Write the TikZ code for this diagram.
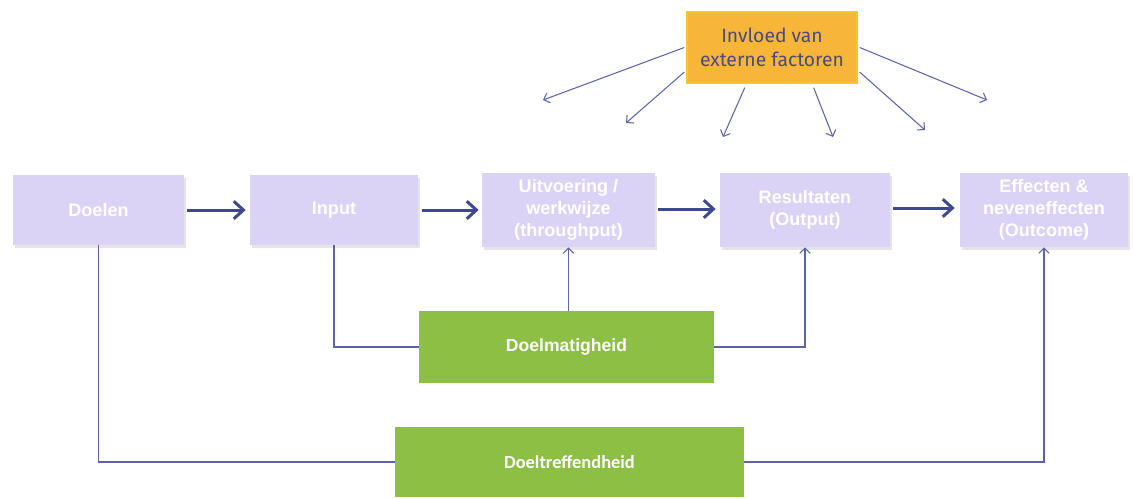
\documentclass[tikz,border=0pt]{standalone}
\usepackage{fontspec}
\setmainfont{Liberation Sans}
\newfontfamily\carlito{Carlito}
\newfontfamily\fira{Fira Sans}
\usetikzlibrary{arrows.meta,shadows}
\definecolor{lav}{HTML}{DAD3F6}
\definecolor{grn}{HTML}{8DBF44}
\definecolor{org}{HTML}{F7B53A}
\definecolor{orgtext}{HTML}{4B4C7C}
\definecolor{thinc}{HTML}{5C64A8}
\definecolor{thickc}{HTML}{3D4890}
\tikzset{
  lavbox/.style={fill=lav, draw=none, text=white, inner sep=0pt, align=center,
    font=\bfseries\fontsize{10.3}{12.5}\selectfont,
    drop shadow={shadow xshift=1.2pt, shadow yshift=-1.5pt, fill=black!10, opacity=1}},
  grnbox/.style={fill=grn, draw=none, text=white, inner sep=0pt, align=center},
  orgbox/.style={fill=org, draw=org!80!yellow, line width=0.8pt, text=orgtext, inner sep=0pt, align=center,
    font=\fira\fontsize{11}{13.5}\selectfont},
  thick arrow/.style={draw=thickc, line width=1.7pt, -{Straight Barb[length=5.5pt,width=10pt]}},
  thin line/.style={draw=thinc, line width=0.6pt},
  thin arrow/.style={thin line, -{Straight Barb[length=3pt,width=6pt]}},
}
\begin{document}
\begin{tikzpicture}[x=0.02cm,y=-0.02cm]
\useasboundingbox (0,0) rectangle (1133,498);
% lavender boxes
\node[lavbox, minimum width=171*0.02cm, minimum height=70*0.02cm] (doelen) at (98.5,210) {Doelen};
\node[lavbox, minimum width=168*0.02cm, minimum height=70*0.02cm] (input) at (334,210) {Input};
\node[lavbox, minimum width=173*0.02cm, minimum height=74*0.02cm] (uit) at (568.5,210) {Uitvoering /\\werkwijze\\(throughput)};
\node[lavbox, minimum width=170*0.02cm, minimum height=74*0.02cm] (res) at (805,210) {Resultaten\\(Output)};
\node[lavbox, minimum width=168*0.02cm, minimum height=74*0.02cm] (eff) at (1044,210) {Effecten \&\\neveneffecten\\(Outcome)};
% orange
\node[orgbox, minimum width=170*0.02cm, minimum height=71*0.02cm] (ext) at (772,47.5) {Invloed van\\externe factoren};
% green
\node[grnbox, minimum width=295*0.02cm, minimum height=72*0.02cm, font=\bfseries\fontsize{10}{12}\selectfont] (dm) at (566.5,347) {Doelmatigheid};
\node[grnbox, minimum width=349*0.02cm, minimum height=70*0.02cm, font=\carlito\bfseries\fontsize{10.5}{12}\selectfont] (dt) at (569.5,462) {Doeltreffendheid};
% thick arrows
\draw[thick arrow] ([xshift=3*0.02cm]doelen.east |- 0,210) -- ([xshift=-4*0.02cm]input.west |- 0,210);
\draw[thick arrow] ([xshift=4*0.02cm]input.east |- 0,210) -- ([xshift=-3*0.02cm]uit.west |- 0,210);
\draw[thick arrow] ([xshift=3*0.02cm]uit.east |- 0,209) -- ([xshift=-4*0.02cm]res.west |- 0,209);
\draw[thick arrow] ([xshift=3*0.02cm]res.east |- 0,208) -- ([xshift=-5*0.02cm]eff.west |- 0,208);
% external factor arrows
\coordinate (e1) at (543,100);
\coordinate (e2) at (626,123);
\coordinate (e3) at (723,137);
\coordinate (e4) at (833,137);
\coordinate (e5) at (925,130);
\coordinate (e6) at (987,100);
\draw[thin arrow] ([xshift=-2*0.02cm]ext.west) -- (e1);
\draw[thin arrow] ([xshift=-2*0.02cm]ext.196) -- (e2);
\draw[thin arrow] ([yshift=-4*0.02cm]ext.233) -- (e3);
\draw[thin arrow] ([yshift=-4*0.02cm]ext.319) -- (e4);
\draw[thin arrow] ([xshift=2*0.02cm]ext.344) -- (e5);
\draw[thin arrow] ([xshift=2*0.02cm]ext.east) -- (e6);
% doelmatigheid connectors
\draw[thin line] (dm.west) -| (input.south);
\draw[thin arrow] (dm.east) -| (res.south);
\draw[thin arrow] (uit.south |- dm.north) -- (uit.south);
% doeltreffendheid connectors
\draw[thin line] (dt.west) -| (doelen.south);
\draw[thin arrow] (dt.east) -| (eff.south);
\end{tikzpicture}
\end{document}
